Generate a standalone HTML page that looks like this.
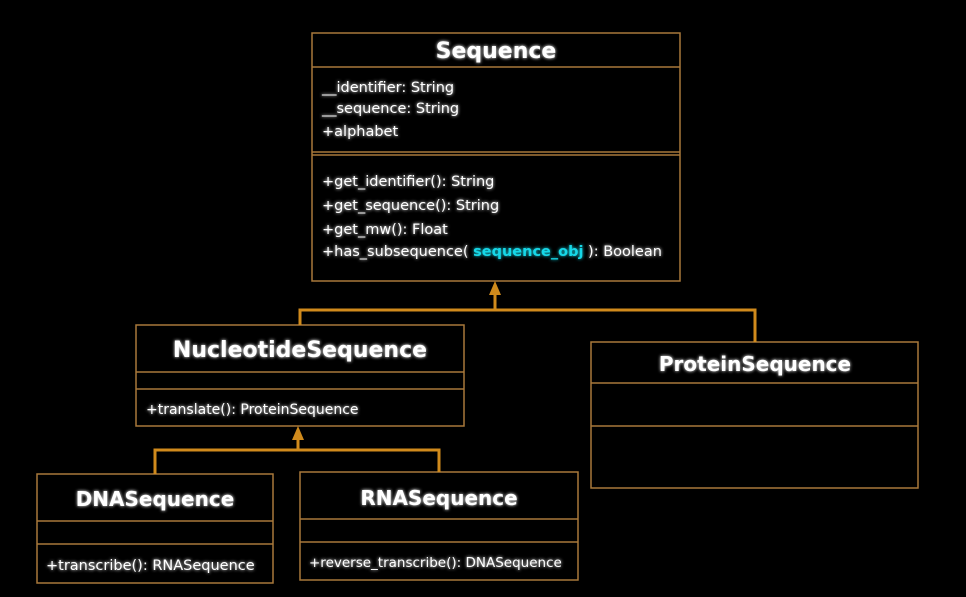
<!DOCTYPE html>
<html><head><style>
html,body{margin:0;padding:0;background:#000;width:966px;height:597px;overflow:hidden}
svg{display:block}
text{font-family:"DejaVu Sans","Liberation Sans",sans-serif;fill:#fff}
.t{font-weight:bold;font-size:22px;text-anchor:middle}
.m{font-size:14.5px}
</style></head><body>
<svg width="966" height="597" viewBox="0 0 966 597">
<defs><filter id="g" x="-20%" y="-50%" width="140%" height="200%"><feGaussianBlur stdDeviation="1.6" result="b"/><feMerge><feMergeNode in="b"/><feMergeNode in="SourceGraphic"/></feMerge></filter></defs>
<g fill="none" stroke="#a8783a" stroke-width="1.5">
<rect x="312" y="33" width="368" height="248"/><line x1="312" y1="67" x2="680" y2="67"/><line x1="312" y1="152" x2="680" y2="152"/><line x1="312" y1="155" x2="680" y2="155"/>
<rect x="136" y="325" width="328" height="101"/><line x1="136" y1="372" x2="464" y2="372"/><line x1="136" y1="389" x2="464" y2="389"/>
<rect x="591" y="342" width="327" height="146"/><line x1="591" y1="383" x2="918" y2="383"/><line x1="591" y1="426" x2="918" y2="426"/>
<rect x="37" y="474" width="236" height="109"/><line x1="37" y1="521" x2="273" y2="521"/><line x1="37" y1="544" x2="273" y2="544"/>
<rect x="300" y="472" width="278" height="108"/><line x1="300" y1="519" x2="578" y2="519"/><line x1="300" y1="542" x2="578" y2="542"/>
</g>
<g fill="none" stroke="#d08a1c" stroke-width="3">
<polyline points="300,325 300,310 755,310 755,342"/><line x1="495" y1="310" x2="495" y2="288"/>
<polyline points="155,474 155,450 439,450 439,472"/><line x1="298" y1="450" x2="298" y2="433"/>
</g>
<g fill="#d08a1c"><polygon points="495,281 489,295 501,295"/><polygon points="298,426 292,440 304,440"/></g>
<g filter="url(#g)">
<text class="t" x="496" y="58">Sequence</text>
<text class="m" x="322" y="92">__identifier: String</text>
<text class="m" x="322" y="113">__sequence: String</text>
<text class="m" x="322" y="136">+alphabet</text>
<text class="m" x="322" y="186">+get_identifier(): String</text>
<text class="m" x="322" y="210">+get_sequence(): String</text>
<text class="m" x="322" y="234">+get_mw(): Float</text>
<text class="m" x="322" y="256">+has_subsequence( <tspan style="fill:#19d8e8;font-weight:bold">sequence_obj</tspan> ): Boolean</text>
<text class="t" x="300" y="357">NucleotideSequence</text>
<text class="m" x="146" y="414" style="font-size:14px">+translate(): ProteinSequence</text>
<text class="t" x="755" y="371" style="font-size:20px">ProteinSequence</text>
<text class="t" x="155" y="506" style="font-size:20px">DNASequence</text>
<text class="m" x="46" y="570">+transcribe(): RNASequence</text>
<text class="t" x="439" y="505" style="font-size:20px">RNASequence</text>
<text class="m" x="309" y="567" style="font-size:13.5px">+reverse_transcribe(): DNASequence</text>
</g>
</svg>
</body></html>
